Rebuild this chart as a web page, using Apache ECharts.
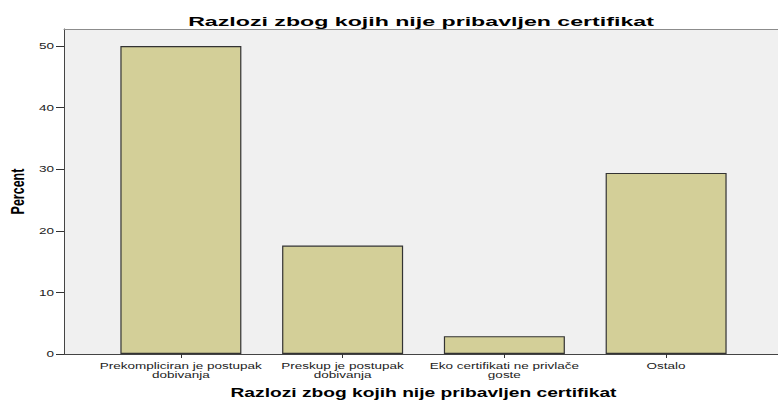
<!DOCTYPE html>
<html>
<head>
<meta charset="utf-8">
<script src="https://cdn.jsdelivr.net/npm/echarts@6/dist/echarts.min.js"></script>
<style>
  html, body { margin: 0; padding: 0; background: #fff; }
  #chart { width: 778px; height: 400px; }
</style>
</head>
<body>
<div id="chart"></div>
<script>
// categories shown on the x axis (two lines each)
const categories = [
  "Prekompliciran je postupak\ndobivanja",
  "Preskup je postupak\ndobivanja",
  "Eko certifikati ne privlače\ngoste",
  "Ostalo"
];
// percent per category
const percent = [50.0, 17.6, 2.9, 29.4];
const yTicks = [0, 10, 20, 30, 40, 50];

const titleText = "Razlozi zbog kojih nije pribavljen certifikat";
const axisTitle = "Razlozi zbog kojih nije pribavljen certifikat";
const font = "Liberation Sans";

const chart = echarts.init(document.getElementById("chart"), null, { renderer: "svg" });

const option = {
  animation: false,
  backgroundColor: "#ffffff",
  title: {
    text: titleText,
    left: 416,
    textAlign: "center",
    top: 11,
    textStyle: { fontFamily: font, fontWeight: "bold", fontSize: 12, color: "#000" }
  },
  grid: [
    {
      // plot background
      left: 64, right: 0, top: 29, bottom: 46, outerBoundsMode: "none",
      show: true, backgroundColor: "#f0f0f0", borderWidth: 0
    },
    {
      // bars
      left: 100, right: 31, top: 29, bottom: 46, outerBoundsMode: "none"
    }
  ],
  xAxis: [
    {
      gridIndex: 0, type: "value", position: "bottom", min: 0, max: 1,
      axisLine: { show: true, lineStyle: { color: "#444", width: 1 } },
      axisTick: { show: false }, axisLabel: { show: false }, splitLine: { show: false }
    },
    {
      gridIndex: 0, type: "value", position: "top", min: 0, max: 1,
      axisLine: { show: true, lineStyle: { color: "#8c8c8c", width: 1 } },
      axisTick: { show: false }, axisLabel: { show: false }, splitLine: { show: false }
    },
    {
      gridIndex: 1, type: "category", data: categories, position: "bottom",
      axisLine: { show: false },
      axisTick: { show: true, alignWithLabel: true, length: 4, lineStyle: { color: "#333" } },
      axisLabel: {
        interval: 0, margin: 7, fontFamily: font, fontSize: 9, lineHeight: 9,
        color: "#222", align: "center"
      },
      name: axisTitle, nameLocation: "middle", nameGap: 33,
      nameTextStyle: { fontFamily: font, fontWeight: "bold", fontSize: 12, color: "#000" }
    }
  ],
  yAxis: [
    {
      gridIndex: 0, type: "value", min: 0, max: 52.76,
      axisLine: { show: true, lineStyle: { color: "#444", width: 1 } },
      axisTick: { show: true, length: 8, inside: false, customValues: yTicks, lineStyle: { color: "#333" } },
      axisLabel: { customValues: yTicks, margin: 10, fontFamily: font, fontSize: 9, color: "#222" },
      splitLine: { show: false },
      name: "Percent", nameLocation: "middle", nameGap: 40, nameRotate: 90,
      nameTextStyle: { fontFamily: font, fontWeight: "bold", fontSize: 12.5, color: "#000" }
    },
    {
      gridIndex: 1, type: "value", min: 0, max: 52.76,
      axisLine: { show: false }, axisTick: { show: false }, axisLabel: { show: false },
      splitLine: { show: false }
    }
  ],
  series: [
    {
      type: "bar",
      xAxisIndex: 2,
      yAxisIndex: 1,
      data: percent,
      barWidth: 121,
      itemStyle: { color: "#d3cf98", borderColor: "#333", borderWidth: 1.2 }
    }
  ]
};

chart.setOption(option);

// the SPSS picture is stretched sideways: widen every text around its anchor
function stretchTexts() {
  document.querySelectorAll("#chart svg text").forEach(function (t) {
    if (t.getAttribute("data-wide")) return;
    const b = t.getBBox();
    if (!b.width) return;
    const s = t.textContent;
    const prev = t.getAttribute("transform") || "";
    if (s === "Percent") {
      const oy = b.y + b.height / 2;
      t.setAttribute("transform", prev + " translate(0," + oy + ") scale(1,1.5) translate(0," + (-oy) + ")");
    } else {
      let f = 1.5;
      let ox = b.x + b.width / 2;
      if (t.getAttribute("text-anchor") === "end") ox = b.x + b.width;
      if (s === titleText) {
        // top title is wider than the axis title
        f = t.getBoundingClientRect().top < 40 ? 1.93 : 1.6;
      }
      t.setAttribute("transform", prev + " translate(" + ox + ",0) scale(" + f + ",1) translate(" + (-ox) + ",0)");
    }
    t.setAttribute("data-wide", "1");
  });
}
chart.on("finished", stretchTexts);
setTimeout(stretchTexts, 0);
</script>
</body>
</html>
